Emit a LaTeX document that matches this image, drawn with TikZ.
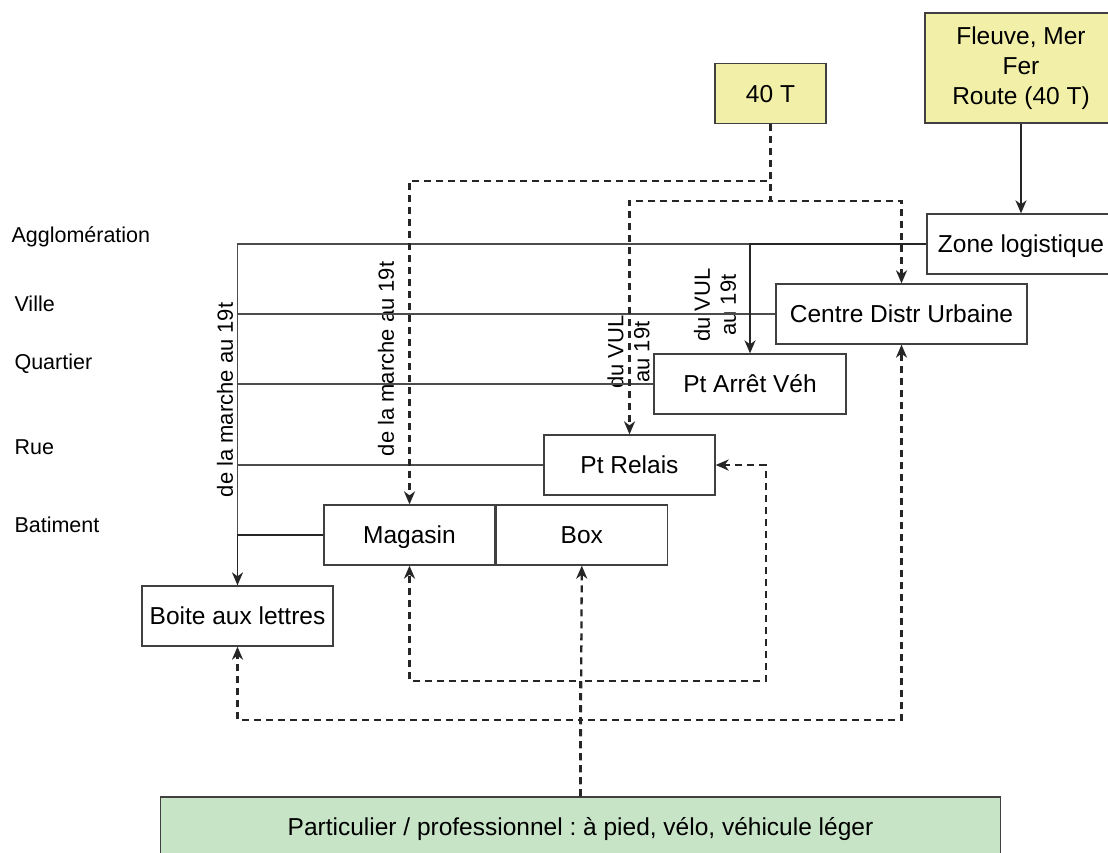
\documentclass[tikz,border=0pt]{standalone}
\usepackage{fontspec}
\setmainfont{Liberation Sans}
\usetikzlibrary{arrows.meta, positioning}

\definecolor{boxyellow}{RGB}{242,239,168}
\definecolor{boxgreen}{RGB}{200,228,199}
\frenchspacing

\begin{document}
\begin{tikzpicture}[
  x=1pt, y=-1pt,
  box/.style={rectangle, draw=black!75, line width=1.3pt, fill=white,
              minimum height=60pt, inner sep=0pt, text centered,
              text height=17.5pt, text depth=0pt,
              font=\fontsize{24.5}{30}\selectfont},
  yellowbox/.style={box, fill=boxyellow},
  greenbox/.style={box, fill=boxgreen},
  levellbl/.style={anchor=west, font=\fontsize{21.5}{24}\selectfont},
  edgelbl/.style={rotate=90, align=center, inner sep=0pt,
                  font=\fontsize{22}{26}\selectfont},
  levelline/.style={draw=black!70, line width=1.3pt},
  arr/.style={-{Stealth[length=13pt, width=11pt, inset=4pt]}, line width=1.8pt, draw=black!85},
  dasharr/.style={arr, dash pattern=on 7pt off 5pt, line width=2.3pt}
]
\useasboundingbox (0,0) rectangle (1108,853);

% levels
\node[levellbl] (agglo)    at (8,237)  {Agglomération};
\node[levellbl] (ville)    at (11,304) {Ville};
\node[levellbl] (quartier) at (11,364) {Quartier};
\node[levellbl] (rue)      at (11,447) {Rue};
\node[levellbl] (batiment) at (11,525) {Batiment};

% boxes
\node[yellowbox, minimum width=111pt] (fortyT) at (770.5,93.5) {40 T};
\node[yellowbox, minimum width=192pt, minimum height=110pt, align=center,
      text height=, text depth=]
     (fleuve) at (1021,68) {Fleuve, Mer\\Fer\\Route (40 T)};
\node[box, minimum width=188pt] (zone)   at (1021,244)  {Zone logistique};
\node[box, minimum width=251pt] (cdu)    at (901.5,314) {Centre Distr Urbaine};
\node[box, minimum width=192pt] (arret)  at (750,384)   {Pt Arrêt Véh};
\node[box, minimum width=171pt] (relais) at (629.5,465) {Pt Relais};
\node[box, minimum width=171pt] (magasin) at (409.5,535) {Magasin};
\node[box, minimum width=171pt, right=0pt of magasin] (boxnd) {Box};
\node[box, minimum width=191pt] (boite)  at (237.5,616) {Boite aux lettres};
\node[greenbox, minimum width=840pt] (part) at (580.5,827)
     {Particulier / professionnel : à pied, vélo, véhicule léger};

% edge labels
\node[edgelbl] (lblA) at (225,400) {de la marche au 19t};
\node[edgelbl] (lblB) at (386,359) {de la marche au 19t};
\node[edgelbl] (lblC) at (628.5,352) {du VUL\\au 19t};
\node[edgelbl] (lblD) at (715,305) {du VUL\\au 19t};

% solid links
\draw[levelline] (zone.west) -| (boite.north);
\draw[levelline] (cdu.west) -- (cdu.west -| boite.north);
\draw[levelline] (arret.west) -- (arret.west -| boite.north);
\draw[levelline] (relais.west) -- (relais.west -| boite.north);
\draw[arr] (magasin.west) -| (boite.north);
\draw[arr] (zone.west) -| (arret.north);
\draw[arr] (fleuve) -- (zone);

% from 40 T
\coordinate (splitA) at (770.5,181);
\coordinate (splitB) at (770.5,201);
\draw[dasharr] (fortyT.south) -- (splitA) -| (magasin.north);
\draw[dasharr] (fortyT.south) -- (splitB) -| (relais.north);
\draw[dasharr] (fortyT.south) -- (splitB) -| (cdu.north);

% from particulier
\coordinate (hubA) at (580.5,681);
\coordinate (hubB) at (580.5,720);
\draw[dasharr] (part.north) -- (boxnd.south);
\draw[dasharr] (part.north) -- (hubA) -| (magasin.south);
\draw[dasharr] (part.north) -- (hubA) -| ([xshift=50]relais.east) -- (relais.east);
\draw[dasharr] (part.north) -- (hubB) -| (boite.south);
\draw[dasharr] (part.north) -- (hubB) -| (cdu.south);
\end{tikzpicture}
\end{document}
